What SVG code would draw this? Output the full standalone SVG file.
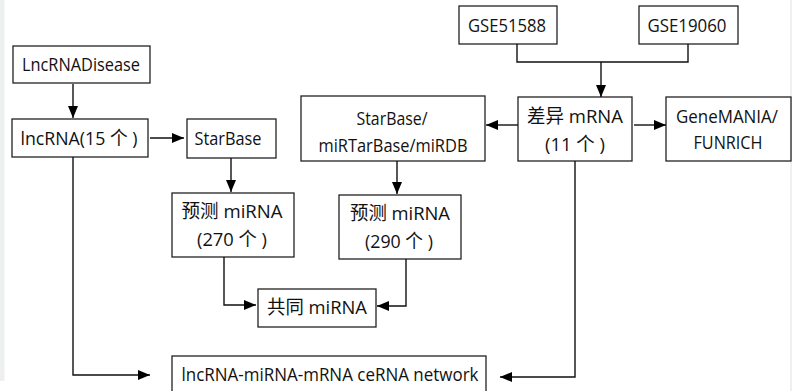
<svg xmlns="http://www.w3.org/2000/svg" width="792" height="391" viewBox="0 0 792 391">
<defs>
<marker id="ah" viewBox="0 0 12 10" refX="12" refY="5" markerWidth="12" markerHeight="10" markerUnits="userSpaceOnUse" orient="auto">
<path d="M0,0 L12,5 L0,10 Z" fill="#000"/>
</marker>
</defs>
<style>
.box{fill:#fff;stroke:#222;stroke-width:1.3}
.t{font-family:"Open Sans","Noto Sans CJK SC",sans-serif;font-size:19px;fill:#111;text-anchor:middle}
.c{fill:none;stroke:#111;stroke-width:1.4}
.a{fill:none;stroke:#111;stroke-width:1.4;marker-end:url(#ah)}
</style>
<rect x="0" y="0" width="792" height="391" fill="#fff"/>
<rect x="0" y="0" width="4.5" height="381" fill="#eef0f0"/>
<rect x="790" y="0" width="2" height="391" fill="#eef0f0"/>

<g id="n_lncdisease"><rect class="box" x="13" y="46" width="137" height="37"/><text class="t" x="81" y="71" textLength="118" lengthAdjust="spacingAndGlyphs">LncRNADisease</text></g>
<g id="n_lncrna"><rect class="box" x="12" y="119" width="136" height="38"/><text class="t" x="79" y="145" textLength="117" lengthAdjust="spacingAndGlyphs">lncRNA(15 个 )</text></g>
<g id="n_starbase"><rect class="box" x="187" y="119" width="89" height="39"/><text class="t" x="228" y="145" textLength="67" lengthAdjust="spacingAndGlyphs">StarBase</text></g>
<g id="n_starbase3"><rect class="box" x="301" y="96" width="184" height="65"/><text class="t" x="392" y="125" textLength="71" lengthAdjust="spacingAndGlyphs">StarBase/</text><text class="t" x="393" y="152" textLength="149" lengthAdjust="spacingAndGlyphs">miRTarBase/miRDB</text></g>
<g id="n_gse51588"><rect class="box" x="459" y="6" width="98" height="38"/><text class="t" x="507" y="32" textLength="78" lengthAdjust="spacingAndGlyphs">GSE51588</text></g>
<g id="n_gse19060"><rect class="box" x="639" y="6" width="99" height="38"/><text class="t" x="687" y="32" textLength="79" lengthAdjust="spacingAndGlyphs">GSE19060</text></g>
<g id="n_diffmrna"><rect class="box" x="518" y="97" width="114" height="64"/><text class="t" x="575" y="123" textLength="96" lengthAdjust="spacingAndGlyphs">差异 mRNA</text><text class="t" x="575" y="151" textLength="60" lengthAdjust="spacingAndGlyphs">(11 个 )</text></g>
<g id="n_genemania"><rect class="box" x="666" y="97" width="125" height="64"/><text class="t" x="727" y="123" textLength="102" lengthAdjust="spacingAndGlyphs">GeneMANIA/</text><text class="t" x="728" y="149" textLength="69" lengthAdjust="spacingAndGlyphs">FUNRICH</text></g>
<g id="n_pred270"><rect class="box" x="172" y="193" width="122" height="64"/><text class="t" x="232" y="218" textLength="101" lengthAdjust="spacingAndGlyphs">预测 miRNA</text><text class="t" x="232" y="246" textLength="70" lengthAdjust="spacingAndGlyphs">(270 个 )</text></g>
<g id="n_pred290"><rect class="box" x="339" y="195" width="122" height="64"/><text class="t" x="400" y="220" textLength="100" lengthAdjust="spacingAndGlyphs">预测 miRNA</text><text class="t" x="399" y="248" textLength="68" lengthAdjust="spacingAndGlyphs">(290 个 )</text></g>
<g id="n_common"><rect class="box" x="258" y="289" width="118" height="38"/><text class="t" x="317" y="314" textLength="100" lengthAdjust="spacingAndGlyphs">共同 miRNA</text></g>
<g id="n_network"><rect class="box" x="172" y="356" width="314" height="40"/><text class="t" x="330" y="381" textLength="297" lengthAdjust="spacingAndGlyphs">lncRNA-miRNA-mRNA ceRNA network</text></g>

<g id="connectors">
<path class="a" d="M73,84 V118"/>
<path class="a" d="M150,138 H184"/>
<path class="a" d="M231,158 V192"/>
<path class="a" d="M397,161 V194"/>
<path class="c" d="M517,44 V62 H688 V44"/>
<path class="a" d="M601,62 V97"/>
<path class="a" d="M518,125 H486"/>
<path class="a" d="M634,125 H666"/>
<path class="a" d="M575,161 V377 H500"/>
<path class="a" d="M73,157 V375 H150"/>
<path class="a" d="M224,257 V305 H256"/>
<path class="a" d="M406,259 V306 H377"/>
</g>
</svg>
